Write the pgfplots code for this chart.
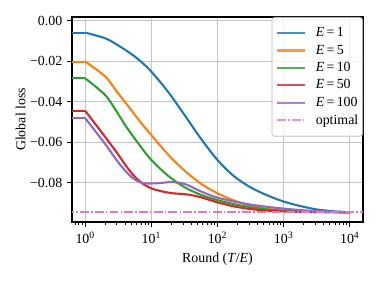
\documentclass[border=0pt]{standalone}
\usepackage{fontspec}
\setmainfont{Liberation Serif}
\usepackage{pgfplots}
\pgfplotsset{compat=1.18}
\usetikzlibrary{calc}
\definecolor{c1}{HTML}{1F77B4}
\definecolor{c2}{HTML}{FF7F0E}
\definecolor{c3}{HTML}{2CA02C}
\definecolor{c4}{HTML}{D62728}
\definecolor{c5}{HTML}{9467BD}
\definecolor{c6}{HTML}{E377C2}
\definecolor{gridgray}{HTML}{C4C4C4}
\definecolor{legedge}{HTML}{CCCCCC}
\begin{document}
\begin{tikzpicture}
\begin{semilogxaxis}[
  name=ax,
  scale only axis, width=209.5pt, height=147.6pt,
  xmin=0.631, xmax=15849, ymin=-0.0994, ymax=0.0018,
  xtick={1,10,100,1000,10000},
  xticklabels={10\textsuperscript{0},10\textsuperscript{1},10\textsuperscript{2},10\textsuperscript{3},10\textsuperscript{4}},
  minor xtick={0.7,0.8,0.9,2,3,4,5,6,7,8,9,20,30,40,50,60,70,80,90,200,300,400,500,600,700,800,900,2000,3000,4000,5000,6000,7000,8000,9000},
  ytick={-0.08,-0.06,-0.04,-0.02,0},
  yticklabels={−0.08,−0.06,−0.04,−0.02,0.00},
  scaled y ticks=false,
  tick align=outside, tick pos=left,
  major tick length=3.5pt, minor tick length=2pt,
  major tick style={black, line width=0.8pt},
  minor tick style={black, line width=0.6pt},
  grid=major, major grid style={color=gridgray, line width=0.8pt},
  axis line style={line width=0.8pt, black},
  xlabel={Round (\textit{T}/\textit{E})}, ylabel={Global loss},
  ylabel style={yshift=-3.5pt},
  legend cell align=left,
  legend style={at={(1,1)}, anchor=north east, draw=legedge, fill=white,
    fill opacity=0.8, draw opacity=0.8, text opacity=1, rounded corners=2pt,
    line width=0.8pt, font=\normalsize, row sep=0pt, inner xsep=3pt, inner ysep=5pt,
    nodes={inner xsep=0pt, inner ysep=2.2pt}},
  legend image code/.code={\draw[#1] (0pt,0pt)--(20pt,0pt); \path (27pt,0pt);},
]
\addplot[c1, line width=1.5pt, forget plot] coordinates {(0.3,-0.0059) (1,-0.0059)};
\addplot[c1, line width=1.5pt, smooth] coordinates {(1,-0.0059) (2,-0.0087) (3,-0.0118) (5,-0.0165) (7,-0.0203) (10,-0.0252) (17.78,-0.0350) (31.62,-0.0465) (56.23,-0.0583) (100,-0.0688) (177.8,-0.0768) (316.2,-0.0823) (562.3,-0.0862) (1000,-0.0893) (1778,-0.0915) (3162,-0.0932) (5623,-0.0941) (10000,-0.0946)};
\addlegendentry{\textit{E}\,=\,1}
\addplot[c2, line width=1.5pt, forget plot] coordinates {(0.3,-0.0202) (1,-0.0202)};
\addplot[c2, line width=1.5pt, smooth] coordinates {(1,-0.0202) (2,-0.0275) (3,-0.0350) (5,-0.0443) (7,-0.0505) (10,-0.0565) (17.78,-0.0660) (31.62,-0.0740) (56.23,-0.0805) (100,-0.0852) (177.8,-0.0888) (316.2,-0.0913) (562.3,-0.0929) (1000,-0.0938) (3162,-0.0944) (10000,-0.0946)};
\addlegendentry{\textit{E}\,=\,5}
\addplot[c3, line width=1.5pt, forget plot] coordinates {(0.3,-0.0285) (1,-0.0285)};
\addplot[c3, line width=1.5pt, smooth] coordinates {(1,-0.0285) (2,-0.0367) (3,-0.0450) (4,-0.0515) (5,-0.0560) (7,-0.0625) (10,-0.0688) (17.78,-0.0765) (31.62,-0.0822) (56.23,-0.0860) (100,-0.0886) (177.8,-0.0906) (316.2,-0.0921) (562.3,-0.0932) (1000,-0.0939) (3162,-0.0944) (10000,-0.0946)};
\addlegendentry{\textit{E}\,=\,10}
\addplot[c4, line width=1.5pt, forget plot] coordinates {(0.3,-0.0445) (1,-0.0445)};
\addplot[c4, line width=1.5pt, smooth] coordinates {(1,-0.0445) (2,-0.0574) (3,-0.0651) (4,-0.0710) (5,-0.0752) (7,-0.0799) (10,-0.0828) (15,-0.0844) (21,-0.0852) (30,-0.0856) (40,-0.0861) (56.23,-0.0872) (75.6,-0.0885) (100,-0.0897) (177.8,-0.0917) (316.2,-0.0930) (562.3,-0.0938) (1000,-0.0942) (3162,-0.0945) (10000,-0.0946)};
\addlegendentry{\textit{E}\,=\,50}
\addplot[c5, line width=1.5pt, forget plot] coordinates {(0.3,-0.0482) (1,-0.0482)};
\addplot[c5, line width=1.5pt, smooth] coordinates {(1,-0.0482) (2,-0.0609) (3,-0.0690) (4,-0.0740) (5,-0.0772) (6.6,-0.0797) (8,-0.0803) (10,-0.0804) (14,-0.0801) (20,-0.0797) (28,-0.0802) (35.5,-0.0812) (53.6,-0.0840) (75.6,-0.0860) (100,-0.0874) (177.8,-0.0893) (316.2,-0.0908) (562.3,-0.0919) (1000,-0.0928) (1778,-0.0935) (3162,-0.0941) (5623,-0.0944) (10000,-0.0946)};
\addlegendentry{\textit{E}\,=\,100}
\addplot[c6, line width=1.6pt, dash pattern=on 6.4pt off 1.6pt on 1pt off 1.6pt] coordinates {(0.3,-0.0946) (20000,-0.0946)};
\addlegendentry{optimal}
\end{semilogxaxis}
\pgfresetboundingbox
\useasboundingbox ($(ax.south west)+(-51.84pt,-46.08pt)$) rectangle ($(ax.north east)+(12.96pt,12.24pt)$);
\end{tikzpicture}
\end{document}
